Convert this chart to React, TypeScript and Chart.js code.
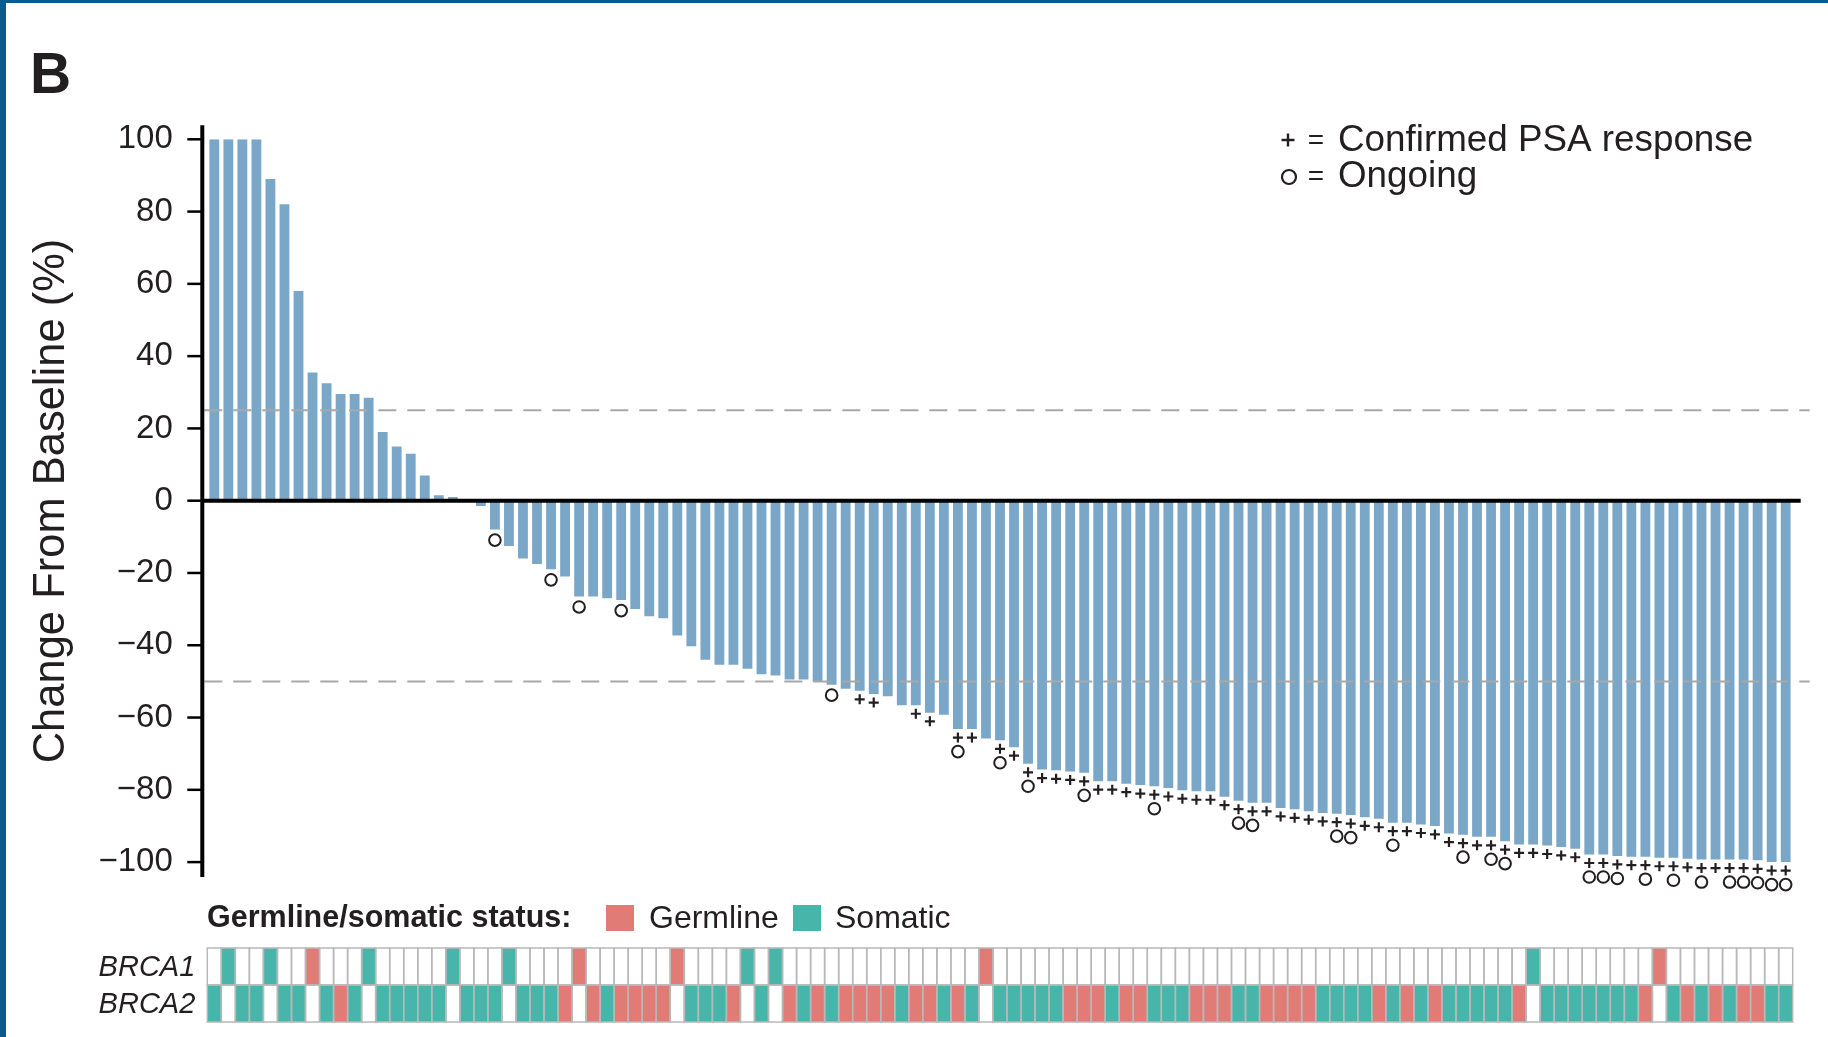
import React, { useEffect, useRef } from "react";
import { Chart, registerables } from "chart.js";

Chart.register(...registerables);

// Best % change in PSA from baseline, one bar per patient (sorted waterfall)
const changeFromBaseline: number[] = [
  100, 100, 100, 100, 89, 82, 58, 35.5, 32.5, 29.5,
  29.5, 28.5, 19, 15, 13, 7, 1.5, 1, 0, -1.5,
  -8, -12.5, -16, -17.5, -19, -21, -26.5, -26.5, -27, -27.5,
  -30, -32, -32.5, -37.3, -40.3, -44, -45.4, -45.4, -46.5, -48,
  -48.4, -49.5, -49.5, -50.2, -50.9, -52, -52.6, -53.5, -54.1, -56.6,
  -56.6, -58.7, -59.2, -63.2, -63.2, -65.8, -66.3, -68.2, -72.8, -74.4,
  -74.6, -74.9, -75.3, -77.6, -77.6, -78.3, -78.7, -79, -79.5, -80.1,
  -80.4, -80.4, -81.9, -83, -83.6, -83.6, -85, -85.4, -85.9, -86.4,
  -86.6, -87, -87.6, -88, -89.1, -89.1, -89.6, -90, -92.1, -92.4,
  -93, -93, -94.2, -95.1, -95.1, -95.4, -95.8, -96.3, -97.9, -97.9,
  -98.3, -98.5, -98.5, -98.8, -98.8, -99.1, -99.3, -99.3, -99.3, -99.3,
  -99.5, -100, -100,
];

const patients: string[] = changeFromBaseline.map((_, i) => String(i + 1));

const yTicks: number[] = [-100, -80, -60, -40, -20, 0, 20, 40, 60, 80, 100];
const referenceLines: number[] = [25, -50];

// Patient numbers (1-based) with markers
const confirmedPSA: number[] = [
  47, 48, 51, 52, 54, 55, 57, 58, 59, 60, 61, 62, 63, 64, 65, 66, 67, 68, 69, 70,
  71, 72, 73, 74, 75, 76, 77, 78, 79, 80, 81, 82, 83, 84, 85, 86, 87, 88, 89, 90,
  91, 92, 93, 94, 95, 96, 97, 98, 99, 100, 101, 102, 103, 104, 105, 106, 107, 108,
  109, 110, 111, 112, 113,
];
const ongoing: number[] = [
  21, 25, 27, 30, 45, 54, 57, 59, 63, 68, 74, 75, 81, 82, 85, 90, 92, 93, 99, 100,
  101, 103, 105, 107, 109, 110, 111, 112, 113,
];

// G = germline, S = somatic, . = none
const brca1Status: string[] = [
  ".S..S..G..", ".S.....S..", ".S....G...", "...G....S.", "S.........",
  ".....G....", "..........", "..........", "..........", "....S.....",
  "...G......", "...",
].join("").split("");
const brca2Status: string[] = [
  "S.SS.SS.SG", "S.SSSSS.SS", "S.SSSG.GSG", "GGG.SSSG.S", ".GSGSGGGGS",
  "GGSGS.SSSS", "SGGGSGGSSS", "GGGSSGGGGS", "SSSGSGSGSS", "SSSG.SSSSS",
  "SSG.SGSGSG", "GSS",
].join("").split("");

const statusLabels: string[] = ["Germline", "Somatic"];
const statusColors: Record<string, string> = { G: "#E07B76", S: "#48B5AA" };
const geneLabels: string[] = ["BRCA1", "BRCA2"];

const W = 1828;
const H = 1037;
const FONT = "'Liberation Sans', Arial, Helvetica, sans-serif";
const INK = "#231f20";

function drawPlus(ctx: CanvasRenderingContext2D, x: number, y: number, arm: number, lw: number) {
  ctx.save();
  ctx.strokeStyle = INK;
  ctx.lineWidth = lw;
  ctx.beginPath();
  ctx.moveTo(x - arm, y);
  ctx.lineTo(x + arm, y);
  ctx.moveTo(x, y - arm);
  ctx.lineTo(x, y + arm);
  ctx.stroke();
  ctx.restore();
}

function drawRing(ctx: CanvasRenderingContext2D, x: number, y: number, r: number, lw: number) {
  ctx.save();
  ctx.strokeStyle = INK;
  ctx.lineWidth = lw;
  ctx.beginPath();
  ctx.arc(x, y, r, 0, Math.PI * 2);
  ctx.stroke();
  ctx.restore();
}

export default function App() {
  const ref = useRef<HTMLCanvasElement>(null);

  useEffect(() => {
    const canvas = ref.current;
    if (!canvas) return;

    const overlay = {
      id: "waterfallOverlay",
      afterDatasetsDraw(chart: any) {
        const ctx: CanvasRenderingContext2D = chart.ctx;
        const y = chart.scales.y;
        const area = chart.chartArea;
        const axisX = area.left - 5;

        // reference dashed lines
        ctx.save();
        ctx.strokeStyle = "#a8a8a8";
        ctx.lineWidth = 2;
        ctx.setLineDash([18, 11]);
        referenceLines.forEach((v) => {
          const py = y.getPixelForValue(v);
          ctx.beginPath();
          ctx.moveTo(axisX + 2, py);
          ctx.lineTo(area.right + 17, py);
          ctx.stroke();
        });
        ctx.restore();

        // zero line
        ctx.save();
        ctx.strokeStyle = "#000";
        ctx.lineWidth = 4;
        const y0 = y.getPixelForValue(0);
        ctx.beginPath();
        ctx.moveTo(axisX, y0);
        ctx.lineTo(area.right + 8, y0);
        ctx.stroke();
        ctx.restore();

        // y axis line and ticks
        ctx.save();
        ctx.strokeStyle = "#000";
        ctx.lineWidth = 4;
        ctx.beginPath();
        ctx.moveTo(axisX, area.top - 14);
        ctx.lineTo(axisX, area.bottom + 15);
        ctx.stroke();
        ctx.lineWidth = 2.5;
        yTicks.forEach((v) => {
          const py = y.getPixelForValue(v);
          ctx.beginPath();
          ctx.moveTo(axisX - 15, py);
          ctx.lineTo(axisX, py);
          ctx.stroke();
        });
        ctx.restore();

        // markers
        const meta = chart.getDatasetMeta(0);
        meta.data.forEach((el: any, i: number) => {
          const n = i + 1;
          const plus = confirmedPSA.includes(n);
          const ring = ongoing.includes(n);
          if (plus) drawPlus(ctx, el.x, el.y + 8.5, 5, 2.2);
          if (ring) drawRing(ctx, el.x, el.y + (plus ? 22.5 : 10.5), 5.8, 2);
        });
      },
      afterDraw(chart: any) {
        const ctx: CanvasRenderingContext2D = chart.ctx;
        const x = chart.scales.x;
        const area = chart.chartArea;
        const n = patients.length;
        const w = (area.right - area.left) / n;

        // BRCA status grid
        const rows = [brca1Status, brca2Status];
        const rowTop = [948, 985];
        const rowH = 37;
        ctx.save();
        rows.forEach((row, r) => {
          row.forEach((s, i) => {
            if (statusColors[s]) {
              const cx = x.getPixelForValue(i);
              ctx.fillStyle = statusColors[s];
              ctx.fillRect(cx - w / 2, rowTop[r], w, rowH);
            }
          });
        });
        ctx.strokeStyle = "#b8b8b8";
        ctx.lineWidth = 1.5;
        rows.forEach((_, r) => {
          for (let i = 0; i < n; i++) {
            const cx = x.getPixelForValue(i);
            ctx.strokeRect(cx - w / 2, rowTop[r], w, rowH);
          }
        });
        ctx.restore();

        // gene labels
        ctx.save();
        ctx.fillStyle = INK;
        ctx.font = `italic 29px ${FONT}`;
        ctx.textAlign = "right";
        ctx.textBaseline = "middle";
        geneLabels.forEach((g, r) => {
          ctx.fillText(g, area.left - 12, rowTop[r] + rowH / 2 + 1);
        });
        ctx.restore();

        // germline/somatic legend
        ctx.save();
        ctx.fillStyle = INK;
        ctx.textBaseline = "middle";
        ctx.font = `bold 30.5px ${FONT}`;
        ctx.fillText("Germline/somatic status:", 207, 919);
        ctx.font = `32px ${FONT}`;
        const swX = [606, 793];
        const txX = [649, 835];
        statusLabels.forEach((lab, k) => {
          ctx.fillStyle = statusColors[k === 0 ? "G" : "S"];
          ctx.fillRect(swX[k], 905, 28, 26);
          ctx.fillStyle = INK;
          ctx.fillText(lab, txX[k], 919);
        });
        ctx.restore();

        // symbol legend
        ctx.save();
        ctx.fillStyle = INK;
        ctx.textBaseline = "middle";
        drawPlus(ctx, 1288, 140, 6.5, 2.4);
        drawRing(ctx, 1289, 177, 7, 2.2);
        ctx.font = `28px ${FONT}`;
        ctx.textAlign = "center";
        ctx.fillText("=", 1316, 141);
        ctx.fillText("=", 1316, 177);
        ctx.textAlign = "left";
        ctx.font = `36.8px ${FONT}`;
        ctx.fillText("Confirmed PSA response", 1338, 141);
        ctx.fillText("Ongoing", 1338, 177);
        ctx.restore();

        // panel letter
        ctx.save();
        ctx.fillStyle = INK;
        ctx.font = `bold 57px ${FONT}`;
        ctx.textBaseline = "alphabetic";
        ctx.fillText("B", 30, 93);
        ctx.restore();

        // y title
        ctx.save();
        ctx.fillStyle = INK;
        ctx.font = `43.5px ${FONT}`;
        ctx.translate(52, 501);
        ctx.rotate(-Math.PI / 2);
        ctx.textAlign = "center";
        ctx.textBaseline = "middle";
        ctx.fillText("Change From Baseline (%)", 0, 0);
        ctx.restore();

        // frame
        ctx.save();
        ctx.fillStyle = "#0b5a8e";
        ctx.fillRect(0, 0, 6, H);
        ctx.fillRect(0, 0, W, 3);
        ctx.restore();
      },
    };

    const chart = new Chart(canvas, {
      type: "bar",
      data: {
        labels: patients,
        datasets: [
          {
            data: changeFromBaseline,
            backgroundColor: "#7AA7C8",
            borderWidth: 0,
            barPercentage: 0.7,
            categoryPercentage: 1,
          },
        ],
      },
      options: {
        responsive: false,
        animation: false,
        devicePixelRatio: 1,
        layout: { padding: { left: 0, top: 139.3, right: 35.3, bottom: 174.9 } },
        plugins: {
          legend: { display: false },
          tooltip: { enabled: false },
        },
        scales: {
          x: { display: false, offset: true, grid: { display: false } },
          y: {
            min: -100,
            max: 100,
            afterFit: (s: any) => {
              s.width = 207.3;
            },
            afterBuildTicks: (s: any) => {
              s.ticks = yTicks.map((v) => ({ value: v }));
            },
            grid: { display: false, drawTicks: false },
            border: { display: false },
            ticks: {
              padding: 34.5,
              color: INK,
              font: { family: FONT, size: 33 },
              callback: (v: any) => (Number(v) < 0 ? "\u2212" + Math.abs(Number(v)) : String(v)),
            },
          },
        },
      },
      plugins: [overlay],
    });

    return () => chart.destroy();
  }, []);

  return (
    <div style={{ position: "fixed", left: 0, top: 0, width: W, height: H, background: "#fff" }}>
      <canvas ref={ref} width={W} height={H} style={{ display: "block", width: W, height: H }} />
    </div>
  );
}
